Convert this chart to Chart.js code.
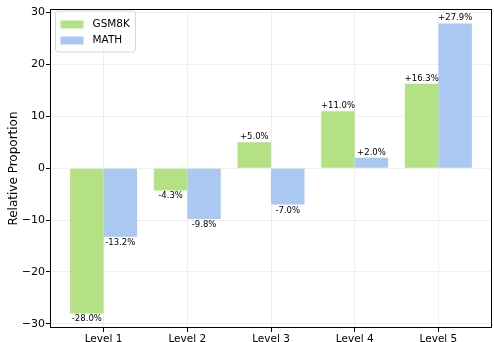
<!DOCTYPE html>
<html>
<head>
<meta charset="utf-8">
<script src="https://cdn.jsdelivr.net/npm/chart.js"></script>
<style>
  body { margin: 0; background: #fff; }
  #wrap { width: 494px; height: 342px; }
</style>
</head>
<body>
<div id="wrap"><canvas id="levelChart" width="494" height="342"></canvas></div>
<script>
const levels = ["Level 1", "Level 2", "Level 3", "Level 4", "Level 5"];
const gsm8k = [-28.0, -4.3, 5.0, 11.0, 16.3];
const math = [-13.2, -9.8, -7.0, 2.0, 27.9];
const yTicks = [-30, -20, -10, 0, 10, 20, 30];

const FONT = "'DejaVu Sans', sans-serif";

function toPoints(values) {
  return values.map((v, i) => ({ x: i, y: v }));
}

function fmtPct(v) {
  return (v > 0 ? "+" : "") + v.toFixed(1) + "%";
}

// value labels above / below each bar
const barLabels = {
  id: "barLabels",
  afterDatasetsDraw(chart) {
    const ctx = chart.ctx;
    ctx.save();
    ctx.font = "8.5px " + FONT;
    ctx.fillStyle = "#000";
    ctx.textAlign = "center";
    chart.data.datasets.forEach((ds, di) => {
      chart.getDatasetMeta(di).data.forEach((bar, i) => {
        const v = ds.data[i].y;
        if (v >= 0) {
          ctx.textBaseline = "bottom";
          ctx.fillText(fmtPct(v), bar.x, bar.y - 1);
        } else {
          ctx.textBaseline = "top";
          ctx.fillText(fmtPct(v), bar.x, bar.y + 1.5);
        }
      });
    });
    ctx.restore();
  },
};

// axes box plus legend in the upper left corner
const frameAndLegend = {
  id: "frameAndLegend",
  afterDraw(chart) {
    const ctx = chart.ctx;
    const a = chart.chartArea;
    ctx.save();
    ctx.strokeStyle = "#000";
    ctx.lineWidth = 1;
    const l = Math.round(a.left) + 0.5;
    const t = Math.round(a.top) + 0.5;
    const r = Math.round(a.right) - 0.5;
    const b = Math.round(a.bottom) - 0.5;
    ctx.strokeRect(l, t, r - l, b - t);

    const bx = l + 5, by = t + 1.5, bw = 80, bh = 41;
    ctx.beginPath();
    ctx.roundRect(bx, by, bw, bh, 3);
    ctx.fillStyle = "rgba(255,255,255,0.8)";
    ctx.fill();
    ctx.strokeStyle = "#d6d6d6";
    ctx.stroke();

    ctx.font = "10.5px " + FONT;
    ctx.textBaseline = "middle";
    ctx.textAlign = "left";
    chart.data.datasets.forEach((ds, i) => {
      const cy = by + 13.5 + i * 16;
      ctx.fillStyle = ds.backgroundColor;
      ctx.fillRect(bx + 5, cy - 4, 23, 8);
      ctx.fillStyle = "#000";
      ctx.fillText(ds.label, bx + 37, cy);
    });
    ctx.restore();
  },
};

new Chart(document.getElementById("levelChart"), {
  type: "bar",
  data: {
    datasets: [
      { label: "GSM8K", data: toPoints(gsm8k), backgroundColor: "#b4e183" },
      { label: "MATH", data: toPoints(math), backgroundColor: "#aac8f2" },
    ],
  },
  options: {
    responsive: false,
    animation: false,
    events: [],
    layout: { padding: { top: 9, right: 2, left: 0, bottom: 0 } },
    datasets: { bar: { categoryPercentage: 0.8, barPercentage: 1.0, borderWidth: 0 } },
    plugins: { legend: { display: false }, tooltip: { enabled: false } },
    scales: {
      x: {
        type: "linear",
        offset: false,
        min: -0.64,
        max: 4.64,
        afterBuildTicks: (s) => { s.ticks = levels.map((_, i) => ({ value: i })); },
        afterFit: (s) => { s.height = 14; },
        border: { display: false },
        grid: { offset: false, color: "#ebebeb", lineWidth: 0.8, tickColor: "#000", tickLength: 4, tickWidth: 1 },
        ticks: {
          autoSkip: false,
          maxRotation: 0,
          padding: 1,
          color: "#000",
          font: { family: FONT, size: 10.5 },
          callback: (v) => levels[v],
        },
      },
      y: {
        min: -30.8,
        max: 30.7,
        afterBuildTicks: (s) => { s.ticks = yTicks.map((v) => ({ value: v })); },
        afterFit: (s) => { s.width = 50; },
        border: { display: false },
        grid: { color: "#ebebeb", lineWidth: 0.8, tickColor: "#000", tickLength: 4, tickWidth: 1 },
        ticks: {
          padding: 1,
          color: "#000",
          font: { family: FONT, size: 11 },
          callback: (v) => (v < 0 ? "\u2212" + Math.abs(v) : String(v)),
        },
        title: {
          display: true,
          text: "Relative Proportion",
          color: "#000",
          font: { family: FONT, size: 12 },
          padding: { top: 7, bottom: 0 },
        },
      },
    },
  },
  plugins: [barLabels, frameAndLegend],
});
</script>
</body>
</html>
